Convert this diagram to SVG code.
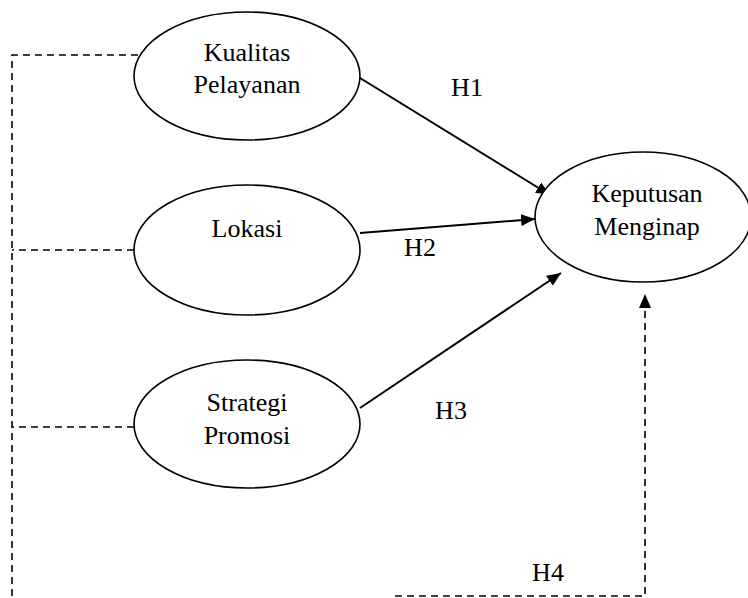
<svg xmlns="http://www.w3.org/2000/svg" width="748" height="598" viewBox="0 0 748 598" font-family="'Liberation Serif', 'Times New Roman', serif">
<style>
.node ellipse{fill:#fff;stroke:#000;stroke-width:1.6}
text{font-family:'Liberation Serif','Times New Roman',serif;font-size:26px;fill:#000;text-anchor:middle}
.solid{stroke:#000;stroke-width:2;fill:none}
.dash{stroke:#000;stroke-width:1.6;fill:none;stroke-dasharray:7 5}
</style>
<defs>
<marker id="arr" viewBox="0 0 14 12" refX="14" refY="6" markerWidth="14" markerHeight="12" markerUnits="userSpaceOnUse" orient="auto">
<path d="M0,0 L14,6 L0,12 Z" fill="#000"/>
</marker>
</defs>
<rect width="748" height="598" fill="#fff"/>
<g id="connectors">
<path class="dash" d="M138,55 H12 V598"/>
<path class="dash" d="M134,250 H12"/>
<path class="dash" d="M134,427 H12"/>
<path class="dash" d="M395,596 H645 V294" marker-end="url(#arr)"/>
<line class="solid" x1="360" y1="78" x2="550" y2="195" marker-end="url(#arr)"/>
<line class="solid" x1="360" y1="233" x2="535" y2="219" marker-end="url(#arr)"/>
<line class="solid" x1="360" y1="408" x2="561" y2="273" marker-end="url(#arr)"/>
<text x="467" y="96">H1</text>
<text x="420" y="256">H2</text>
<text x="451" y="419">H3</text>
<text x="548" y="581">H4</text>
</g>
<g id="kualitas" class="node">
<ellipse cx="247" cy="76" rx="113" ry="64"/>
<text x="247" y="61">Kualitas</text>
<text x="247" y="93">Pelayanan</text>
</g>
<g id="lokasi" class="node">
<ellipse cx="247" cy="250" rx="113" ry="65"/>
<text x="247" y="237">Lokasi</text>
</g>
<g id="strategi" class="node">
<ellipse cx="247" cy="424" rx="113" ry="64"/>
<text x="247" y="411">Strategi</text>
<text x="247" y="444">Promosi</text>
</g>
<g id="keputusan" class="node">
<ellipse cx="643" cy="217" rx="108" ry="65"/>
<text x="647" y="202">Keputusan</text>
<text x="647" y="235">Menginap</text>
</g>
</svg>
